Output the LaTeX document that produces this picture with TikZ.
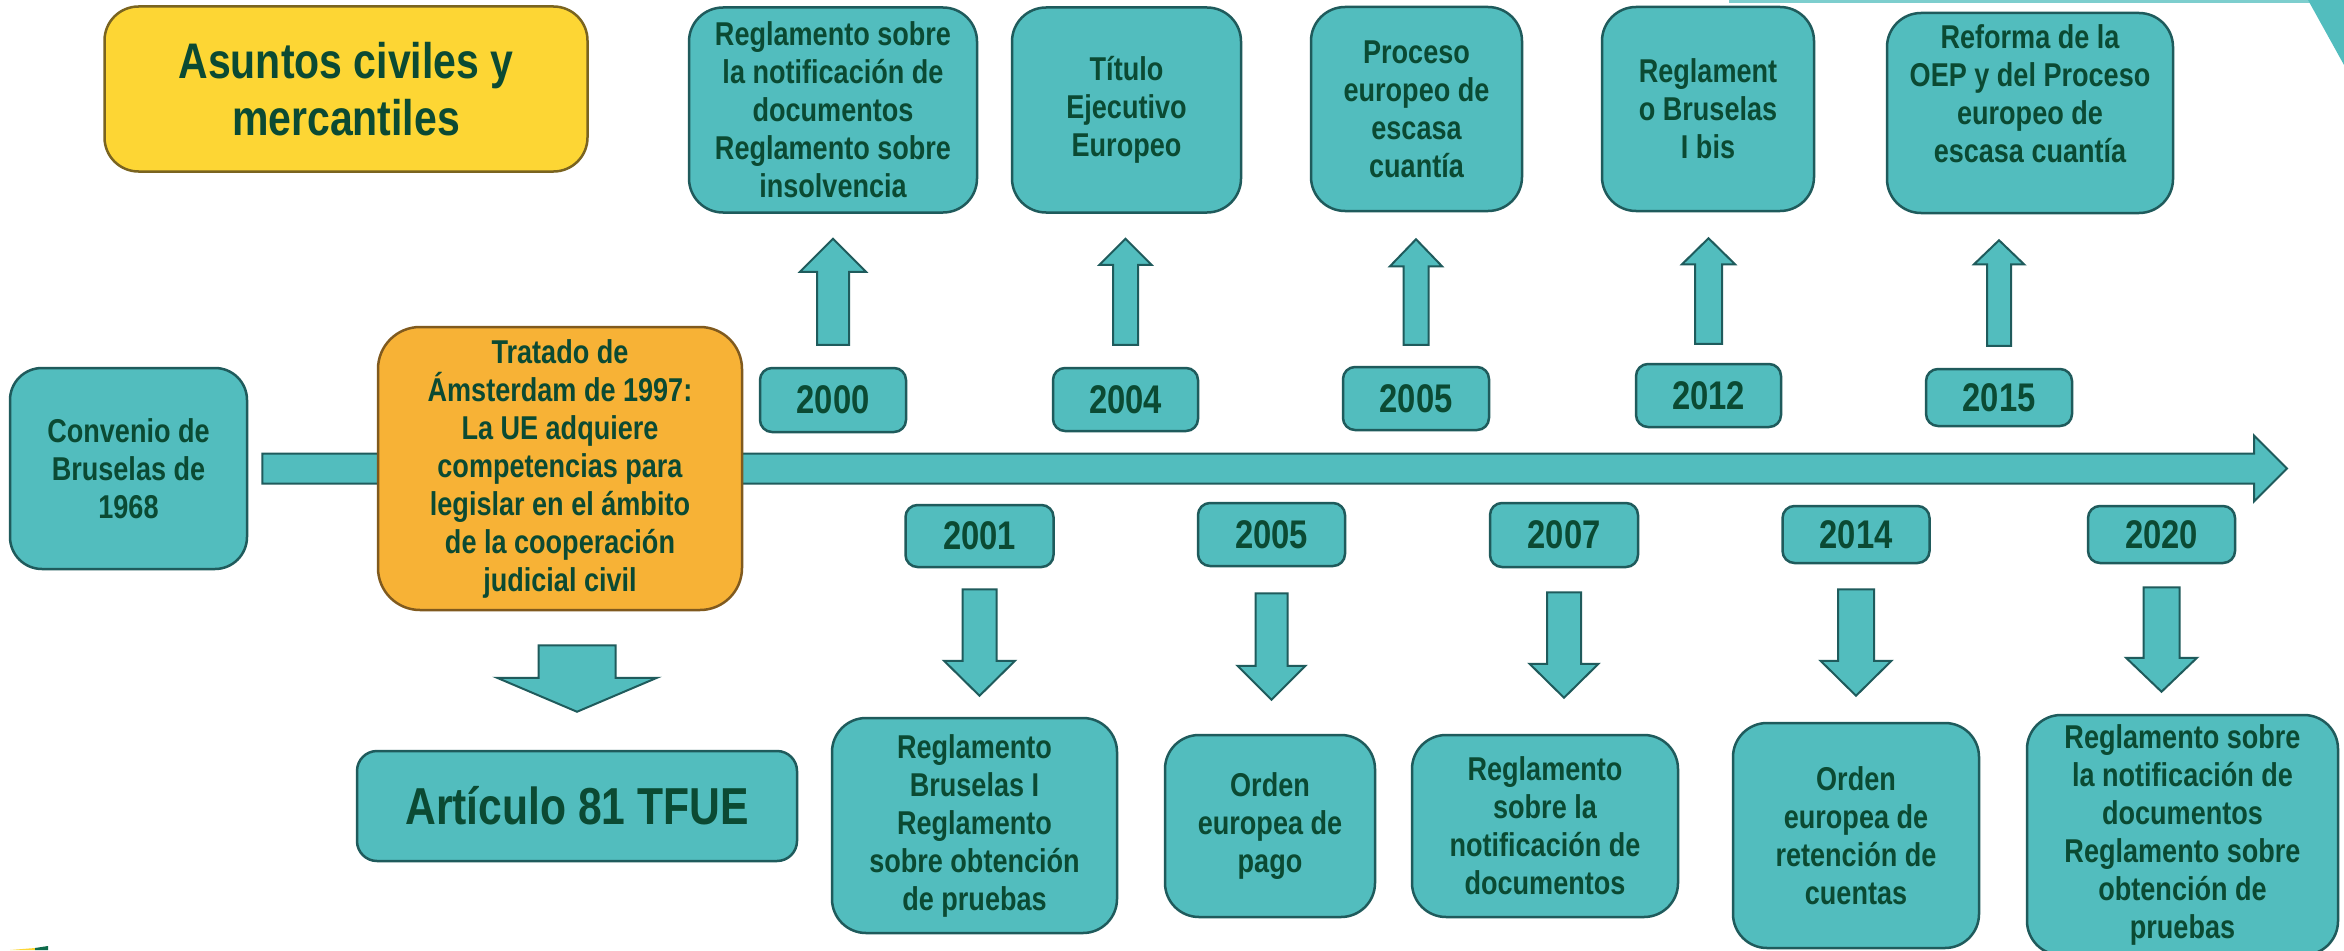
\documentclass[tikz,border=0pt]{standalone}
\usepackage{fontspec}
\setmainfont{Liberation Sans}[FakeStretch=0.82]
\usetikzlibrary{calc}

\definecolor{boxteal}{HTML}{52BDBE}
\definecolor{edgeteal}{HTML}{1F5B5C}
\definecolor{textgreen}{HTML}{0B4A33}
\definecolor{titleyellow}{HTML}{FDD634}
\definecolor{titleedge}{HTML}{7A6420}
\definecolor{treatyorange}{HTML}{F7B236}
\definecolor{treatyedge}{HTML}{805A1E}
\definecolor{cornergreen}{HTML}{0E6B4B}

% block arrow: tail, tip, shaft half width, head half width, head length
\newcommand{\blockarrow}[5]{%
  \draw[blockarr] let \p1=#1, \p2=#2, \n1={sign(\y2-\y1)} in
    ({\x1-#3},\y1) -- ({\x1-#3},{\y2-\n1*#5}) -- ({\x1-#4},{\y2-\n1*#5}) -- (\x1,\y2)
    -- ({\x1+#4},{\y2-\n1*#5}) -- ({\x1+#3},{\y2-\n1*#5}) -- ({\x1+#3},\y1) -- cycle;
}

\begin{document}
\begin{tikzpicture}[
    x=1pt, y=-1pt,
    eventbox/.style={draw=edgeteal, fill=boxteal, line width=2.5pt, rounded corners=34pt,
      align=center, text=textgreen, inner sep=0pt, font={\fontsize{33}{38}\selectfont\bfseries}},
    yearbox/.style={draw=edgeteal, fill=boxteal, line width=2.5pt, rounded corners=12pt,
      text=textgreen, inner sep=0pt, font={\fontsize{40}{44}\selectfont\bfseries}},
    titlebox/.style={draw=titleedge, fill=titleyellow, line width=2.5pt, rounded corners=34pt,
      align=center, text=textgreen, inner sep=0pt, font={\fontsize{50}{57}\selectfont\bfseries}},
    blockarr/.style={draw=edgeteal, fill=boxteal, line width=2pt, line join=miter}
  ]

  \path[use as bounding box, fill=white] (0,0) rectangle (2344,950);

  % Slide corners
  \fill[boxteal!75] (1729,0) rectangle (2310,3);
  \fill[boxteal] (2308,0) -- (2344,0) -- (2344,65) -- cycle;
  \fill[titleyellow] (10,950) -- (35,948) -- (35,950) -- cycle;
  \fill[cornergreen] (35,948) -- (48,946) -- (48,950) -- (35,950) -- cycle;

  % Title
  \node[titlebox, minimum width=483pt, minimum height=165pt] (title) at (346,89)
    {Asuntos civiles y\\mercantiles};

  % Start of the timeline
  \node[eventbox, rounded corners=32pt, minimum width=237pt, minimum height=201pt] (conv) at (128.5,468.5)
    {Convenio de\\Bruselas de\\1968};
  \coordinate (tlend) at (2287,469);
  \draw[blockarr] let \p1=($(conv.east)+(14pt,0)$), \p2=(tlend) in
    (\x1,{\y1+15pt}) -- ({\x2-33pt},{\y1+15pt}) -- ({\x2-33pt},{\y1+33pt}) -- (\x2,\y1)
    -- ({\x2-33pt},{\y1-33pt}) -- ({\x2-33pt},{\y1-15pt}) -- (\x1,{\y1-15pt}) -- cycle;

  \node[eventbox, draw=treatyedge, fill=treatyorange, rounded corners=42pt,
    minimum width=364pt, minimum height=283pt] (tratado) at (560,468.5)
    {Tratado de\\Ámsterdam de 1997:\\La UE adquiere\\competencias para\\legislar en el ámbito\\de la cooperación\\judicial civil};
  \node[eventbox, rounded corners=20pt, minimum width=440pt, minimum height=110pt,
    font={\fontsize{52}{60}\selectfont\bfseries}] (art) at (577,806) {Artículo 81 TFUE};
  \blockarrow{($(tratado.south -| art.north)+(0,-34pt)$)}{($(art.north)+(0,38pt)$)}{38.5pt}{80pt}{34pt}

  % Years above the line
  \node[yearbox, minimum width=146pt, minimum height=64pt] (yr2000) at (833,400) {2000};
  \node[yearbox, minimum width=145pt, minimum height=63pt] (yr2004) at (1125.5,399.5) {2004};
  \node[yearbox, minimum width=146pt, minimum height=63pt] (yr2005a) at (1416,398.5) {2005};
  \node[yearbox, minimum width=145pt, minimum height=63pt] (yr2012) at (1708.5,395.5) {2012};
  \node[yearbox, minimum width=146pt, minimum height=57pt] (yr2015) at (1999,397.5) {2015};

  % Events above the line
  \node[eventbox, minimum width=288pt, minimum height=205pt] (ev2000) at (833,110)
    {Reglamento sobre\\la notificación de\\documentos\\Reglamento sobre\\insolvencia};
  \node[eventbox, minimum width=229pt, minimum height=205pt] (ev2004) at (1126.5,110)
    {Título\\Ejecutivo\\Europeo};
  \node[eventbox, minimum width=211pt, minimum height=204pt] (ev2005a) at (1416.5,109)
    {Proceso\\europeo de\\escasa\\cuantía};
  \node[eventbox, minimum width=212pt, minimum height=204pt] (ev2012) at (1708,109)
    {Reglament\\o Bruselas\\I bis};
  \node[eventbox, minimum width=286pt, minimum height=200pt] (ev2015) at (2030,113)
    {Reforma de la\\OEP y del Proceso\\europeo de\\escasa cuantía\\ \mbox{}};

  % Arrows up
  \blockarrow{($(yr2000.north)+(0,22pt)$)}{($(ev2000.south)+(0,-25pt)$)}{16pt}{33pt}{33pt}
  \blockarrow{($(yr2004.north)+(0,22pt)$)}{($(ev2004.south)+(0,-25pt)$)}{12.5pt}{26pt}{26pt}
  \blockarrow{($(yr2005a.north)+(0,21pt)$)}{($(ev2005a.south)+(0,-27pt)$)}{12.5pt}{26pt}{27pt}
  \blockarrow{($(yr2012.north)+(0,19pt)$)}{($(ev2012.south)+(0,-26pt)$)}{13.5pt}{26.5pt}{26pt}
  \blockarrow{($(yr2015.north)+(0,22pt)$)}{($(ev2015.south)+(0,-26pt)$)}{12pt}{25pt}{24pt}

  % Years below the line
  \node[yearbox, minimum width=148pt, minimum height=62pt] (yr2001) at (979.5,536) {2001};
  \node[yearbox, minimum width=147pt, minimum height=63pt] (yr2005b) at (1271.5,534.5) {2005};
  \node[yearbox, minimum width=148pt, minimum height=64pt] (yr2007) at (1564,535) {2007};
  \node[yearbox, minimum width=147pt, minimum height=57pt] (yr2014) at (1856,534.5) {2014};
  \node[yearbox, minimum width=147pt, minimum height=57pt] (yr2020) at (2161.5,534.5) {2020};

  % Events below the line
  \node[eventbox, minimum width=285pt, minimum height=215pt] (ev2001) at (974.5,825.5)
    {Reglamento\\Bruselas I\\Reglamento\\sobre obtención\\de pruebas};
  \node[eventbox, minimum width=210pt, minimum height=182pt] (ev2005b) at (1270,826)
    {Orden\\europea de\\pago};
  \node[eventbox, minimum width=266pt, minimum height=182pt] (ev2007) at (1545,826)
    {Reglamento\\sobre la\\notificación de\\documentos};
  \node[eventbox, minimum width=246pt, minimum height=225pt] (ev2014) at (1856,835.5)
    {Orden\\europea de\\retención de\\cuentas};
  \node[eventbox, minimum width=311pt, minimum height=240pt] (ev2020) at (2182.5,835)
    {Reglamento sobre\\la notificación de\\documentos\\Reglamento sobre\\obtención de\\pruebas};

  % Arrows down
  \blockarrow{($(yr2001.south)+(0,-21pt)$)}{($(ev2001.north)+(0,21pt)$)}{17pt}{35.5pt}{35pt}
  \blockarrow{($(yr2005b.south)+(0,-26pt)$)}{($(ev2005b.north)+(0,34pt)$)}{16pt}{34pt}{34pt}
  \blockarrow{($(yr2007.south)+(0,-24pt)$)}{($(ev2007.north)+(0,36pt)$)}{17pt}{34.5pt}{34pt}
  \blockarrow{($(yr2014.south)+(0,-25pt)$)}{($(ev2014.north)+(0,26pt)$)}{18pt}{35.5pt}{35pt}
  \blockarrow{($(yr2020.south)+(0,-23pt)$)}{($(ev2020.north)+(0,22pt)$)}{18pt}{35.5pt}{34pt}

\end{tikzpicture}
\end{document}
